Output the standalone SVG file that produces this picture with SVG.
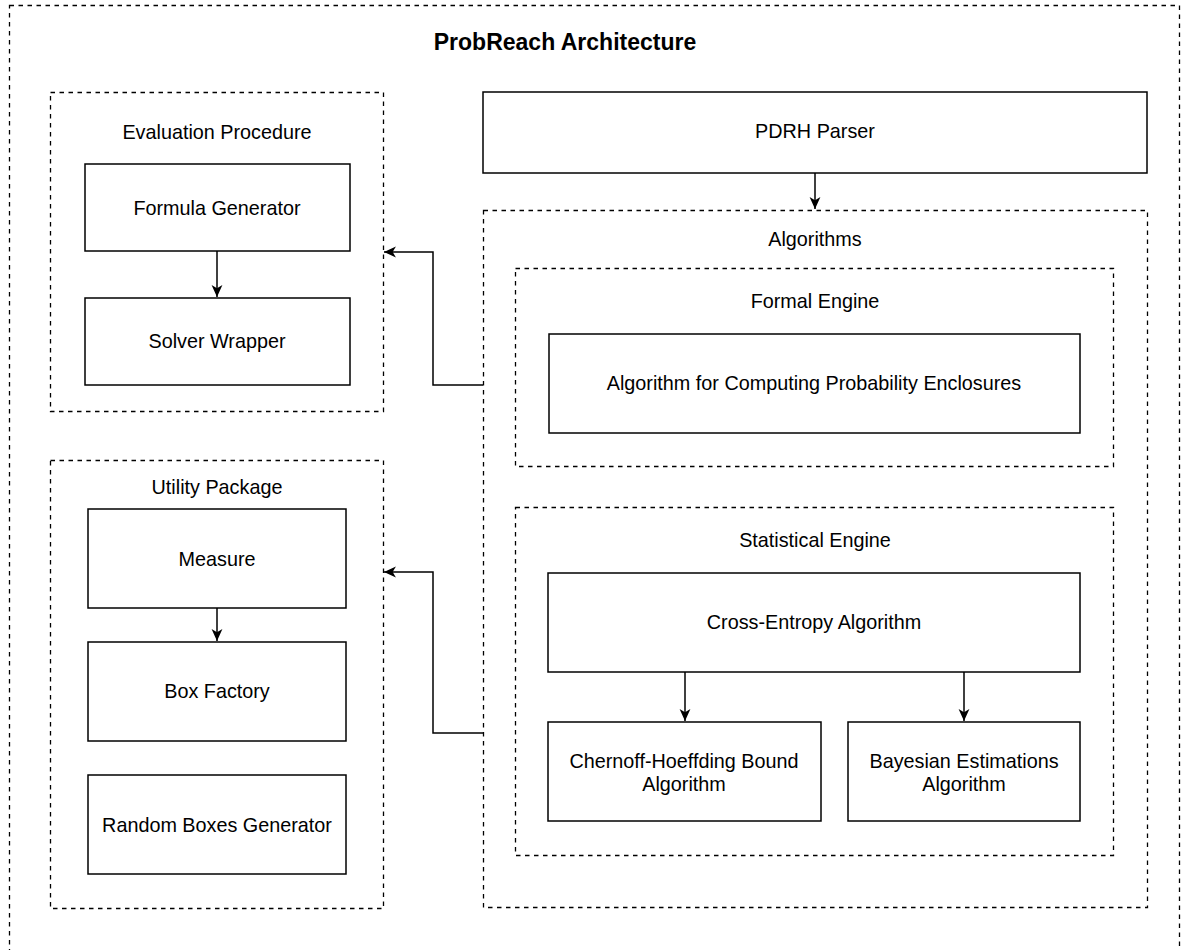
<svg xmlns="http://www.w3.org/2000/svg" width="1181" height="950" viewBox="0 0 1181 950">
<style>
.d{fill:none;stroke:#000;stroke-width:1.3;stroke-dasharray:4.5 4.5}
.b{fill:#fff;stroke:#000;stroke-width:1.5}
.t{font-family:"Liberation Sans",Arial,sans-serif;font-size:19.8px;fill:#000;text-anchor:middle}
.c{fill:none;stroke:#000;stroke-width:1.5}
</style>
<defs>
<marker id="a" viewBox="0 0 12 12" refX="11" refY="6" markerWidth="13" markerHeight="13" markerUnits="userSpaceOnUse" orient="auto">
<path d="M0,1 L11,6 L0,11 L3,6 Z" fill="#000"/>
</marker>
</defs>
<rect width="1181" height="950" fill="#fff"/>
<g id="outer">
<rect class="d" x="9.5" y="5.5" width="1170" height="960"/>
<text class="t" x="565" y="50" style="font-weight:bold;font-size:23px">ProbReach Architecture</text>
</g>
<g id="eval">
<rect class="d" x="50.5" y="92.5" width="333" height="319"/>
<text class="t" x="217" y="139">Evaluation Procedure</text>
</g>
<g id="formula"><rect class="b" x="85" y="164" width="265" height="87"/><text class="t" x="217" y="215">Formula Generator</text></g>
<g id="solver"><rect class="b" x="85" y="298" width="265" height="87"/><text class="t" x="217" y="348">Solver Wrapper</text></g>
<g id="util">
<rect class="d" x="50.5" y="460.5" width="333" height="448"/>
<text class="t" x="217" y="494">Utility Package</text>
</g>
<g id="measure"><rect class="b" x="88" y="509" width="258" height="99"/><text class="t" x="217" y="566">Measure</text></g>
<g id="boxfactory"><rect class="b" x="88" y="642" width="258" height="99"/><text class="t" x="217" y="698">Box Factory</text></g>
<g id="random"><rect class="b" x="88" y="775" width="258" height="99"/><text class="t" x="217" y="832">Random Boxes Generator</text></g>
<g id="pdrh"><rect class="b" x="483" y="92" width="664" height="81"/><text class="t" x="815" y="138">PDRH Parser</text></g>
<g id="algorithms">
<rect class="d" x="483.5" y="210.5" width="664" height="697"/>
<text class="t" x="815" y="246">Algorithms</text>
</g>
<g id="formal">
<rect class="d" x="515.5" y="268.5" width="598" height="198"/>
<text class="t" x="815" y="308">Formal Engine</text>
</g>
<g id="enclosures"><rect class="b" x="549" y="334" width="531" height="99"/><text class="t" x="814" y="390">Algorithm for Computing Probability Enclosures</text></g>
<g id="statistical">
<rect class="d" x="515.5" y="507.5" width="598" height="348"/>
<text class="t" x="815" y="547">Statistical Engine</text>
</g>
<g id="crossentropy"><rect class="b" x="548" y="573" width="532" height="99"/><text class="t" x="814" y="629">Cross-Entropy Algorithm</text></g>
<g id="chernoff"><rect class="b" x="548" y="722" width="273" height="99"/><text class="t" x="684" y="768">Chernoff-Hoeffding Bound</text><text class="t" x="684" y="791">Algorithm</text></g>
<g id="bayesian"><rect class="b" x="848" y="722" width="232" height="99"/><text class="t" x="964" y="768">Bayesian Estimations</text><text class="t" x="964" y="791">Algorithm</text></g>
<g id="connectors">
<path class="c" d="M217,251 V297" marker-end="url(#a)"/>
<path class="c" d="M217,608 V641" marker-end="url(#a)"/>
<path class="c" d="M815,173 V209" marker-end="url(#a)"/>
<path class="c" d="M685,672 V721" marker-end="url(#a)"/>
<path class="c" d="M964,672 V721" marker-end="url(#a)"/>
<path class="c" d="M483,385 H433 V252 H384" marker-end="url(#a)"/>
<path class="c" d="M483,733 H433 V572 H384" marker-end="url(#a)"/>
</g>
</svg>
